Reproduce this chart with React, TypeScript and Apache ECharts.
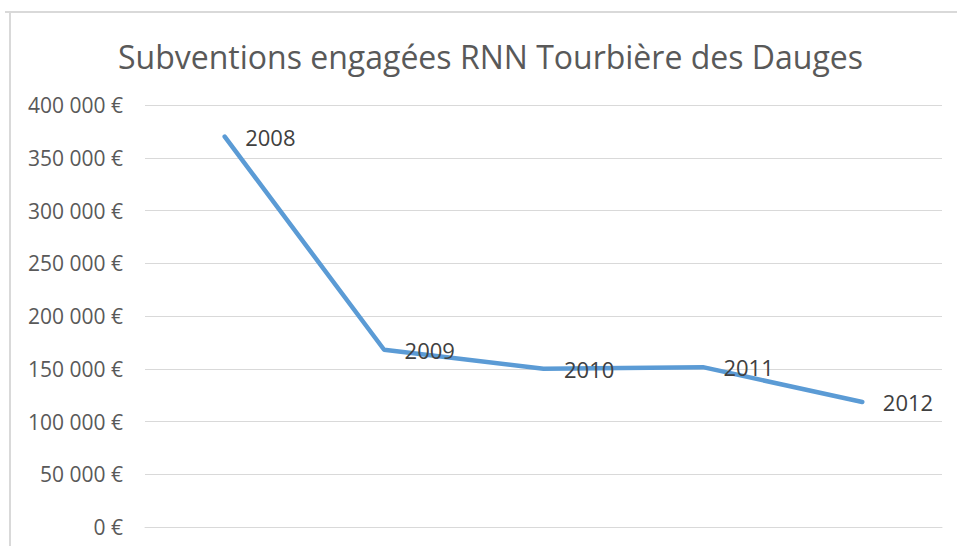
import React, { useEffect, useRef } from "react";
import * as echarts from "echarts";

const categories = ["2008", "2009", "2010", "2011", "2012"];
const values = [370000, 168000, 150000, 151500, 118500];
const titleText = "Subventions engagées RNN Tourbière des Dauges";

function formatEuro(v: number): string {
  const s = Math.round(v).toString().replace(/\B(?=(\d{3})+(?!\d))/g, " ");
  return s + " €";
}

export default function App() {
  const ref = useRef<HTMLDivElement>(null);
  useEffect(() => {
    if (!ref.current) return;
    const chart = echarts.init(ref.current, undefined, { renderer: "svg" });
    chart.setOption({
      animation: false,
      backgroundColor: "#ffffff",
      title: {
        text: titleText,
        left: 113,
        top: 35,
        textStyle: {
          fontFamily: "Open Sans",
          fontSize: 32,
          fontWeight: "normal",
          color: "#595959",
        },
      },
      graphic: [
        { type: "line", shape: { x1: 5, y1: 12, x2: 957, y2: 12 }, style: { stroke: "#d9d9d9", lineWidth: 2 } },
        { type: "line", shape: { x1: 10, y1: 12, x2: 10, y2: 546 }, style: { stroke: "#d9d9d9", lineWidth: 2 } },
      ],
      grid: { left: 145, right: 15, top: 105, bottom: 19, containLabel: false },
      xAxis: {
        type: "category",
        data: categories,
        boundaryGap: true,
        axisLine: { show: true, lineStyle: { color: "#d9d9d9", width: 1 } },
        axisTick: { show: false },
        axisLabel: { show: false },
      },
      yAxis: {
        type: "value",
        min: 0,
        max: 400000,
        interval: 50000,
        axisLine: { show: false },
        axisTick: { show: false },
        splitLine: { lineStyle: { color: "#d9d9d9", width: 1 } },
        axisLabel: {
          margin: 22,
          fontFamily: "Open Sans",
          fontSize: 21,
          color: "#595959",
          formatter: (v: number) => formatEuro(v),
        },
      },
      series: [
        {
          type: "line",
          data: values,
          symbol: "circle",
          symbolSize: 1,
          showSymbol: true,
          itemStyle: { color: "#5b9bd5" },
          lineStyle: { color: "#5b9bd5", width: 4.5, cap: "round", join: "round" },
          label: {
            show: true,
            position: "right",
            distance: 20,
            formatter: "{b}",
            fontFamily: "Open Sans",
            fontSize: 22,
            color: "#404040",
          },
        },
      ],
    });
    return () => chart.dispose();
  }, []);
  return (
    <div
      ref={ref}
      style={{ position: "absolute", left: 0, top: 0, width: 957, height: 546 }}
    />
  );
}
